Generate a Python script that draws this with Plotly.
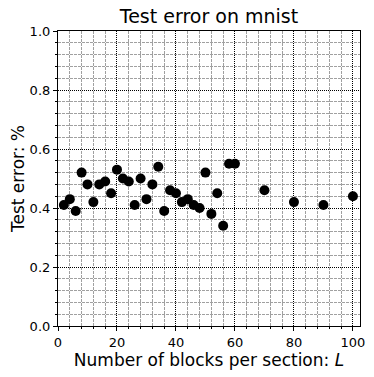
import plotly.graph_objects as go

blocks = [2, 4, 6, 8, 10, 12, 14, 16, 18, 20, 22, 24, 26, 28, 30, 32, 34, 36, 38, 40,
          42, 44, 46, 48, 50, 52, 54, 56, 58, 60, 70, 80, 90, 100]
test_error = [0.41, 0.43, 0.39, 0.52, 0.48, 0.42, 0.48, 0.49, 0.45, 0.53, 0.50, 0.49,
              0.41, 0.50, 0.43, 0.48, 0.54, 0.39, 0.46, 0.45, 0.42, 0.43, 0.41, 0.40,
              0.52, 0.38, 0.45, 0.34, 0.55, 0.55, 0.46, 0.42, 0.41, 0.44]

fig = go.Figure(go.Scatter(x=blocks, y=test_error, mode='markers',
                           marker=dict(color='black', size=10), cliponaxis=False))

axis_style = dict(showline=True, linecolor='black', linewidth=1.2, mirror=True,
                  ticks='outside', ticklen=4, tickcolor='black', zeroline=False,
                  showgrid=True, gridcolor='black', griddash='1px,1px', gridwidth=1,
                  tickfont=dict(size=13, color='black'), automargin=False)

fig.update_xaxes(range=[0, 102.4], dtick=20, tick0=0,
                 minor=dict(dtick=4, showgrid=True, gridcolor='#a0a0a0', griddash='3px,1px',
                            ticks='outside', ticklen=2, tickcolor='black'),
                 title=dict(text='Number of blocks per section: <i>L</i>', font=dict(size=17, color='black'),
                            standoff=4),
                 **axis_style)
fig.update_yaxes(range=[0, 1], dtick=0.2, tick0=0, tickformat='.1f',
                 minor=dict(dtick=0.04, showgrid=True, gridcolor='#a0a0a0', griddash='3px,1px',
                            ticks='outside', ticklen=2, tickcolor='black'),
                 title=dict(text='Test error: %', font=dict(size=17, color='black'), standoff=6),
                 **axis_style)

# page body has an 8px margin, so the figure is shrunk and shifted to compensate
fig.update_layout(width=366, height=369, template='none',
                  font=dict(family='DejaVu Sans', color='black'),
                  title=dict(text='Test error on mnist', x=201 / 366, xanchor='center', y=1 - 2 / 369,
                             yanchor='top', font=dict(size=19, color='black')),
                  margin=dict(l=50, r=14, t=23, b=51, autoexpand=False),
                  plot_bgcolor='white', paper_bgcolor='white', showlegend=False)

fig.write_html("out.html")
